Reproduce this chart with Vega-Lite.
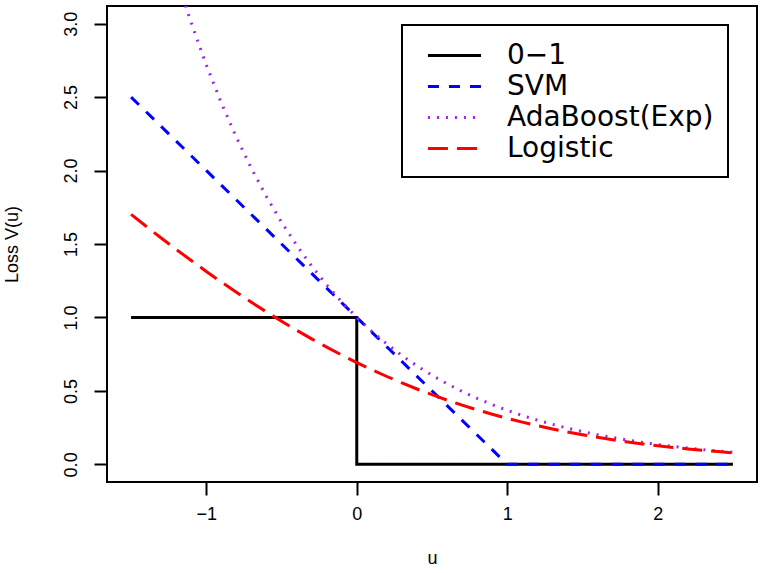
{
  "$schema": "https://vega.github.io/schema/vega-lite/v6.json",
  "width": 650,
  "height": 476,
  "autosize": "none",
  "padding": {"left": 107, "top": 6, "right": 10, "bottom": 91},
  "background": "white",
  "config": {
    "view": {"stroke": "black", "strokeWidth": 2},
    "font": "Liberation Sans",
    "axis": {
      "domain": false,
      "grid": false,
      "ticks": true,
      "tickColor": "black",
      "tickWidth": 2,
      "tickSize": 13,
      "labelFont": "Liberation Sans",
      "labelFontSize": 18,
      "labelColor": "black",
      "titleFont": "Liberation Sans",
      "titleFontSize": 18,
      "titleFontWeight": "normal",
      "titleColor": "black"
    },
    "legend": {
      "strokeColor": "black",
      "strokeWidth": 2,
      "fillColor": "white",
      "padding": 14,
      "labelFont": "DejaVu Sans",
      "labelFontSize": 28,
      "labelColor": "black",
      "labelLimit": 500,
      "labelOffset": 36,
      "symbolType": "M-1.77,0H1.77",
      "symbolSize": 900,
      "symbolStrokeWidth": 3,
      "symbolOffset": 22,
      "rowPadding": -2
    }
  },
  "datasets": {
    "curves": [
      {"loss": "0−1", "idx": 0, "u": -1.5, "v": 1},
      {"loss": "0−1", "idx": 1, "u": 0, "v": 1},
      {"loss": "0−1", "idx": 2, "u": 0, "v": 0},
      {"loss": "0−1", "idx": 3, "u": 2.5, "v": 0},
      {"loss": "SVM", "idx": 0, "u": -1.5, "v": 2.5},
      {"loss": "SVM", "idx": 1, "u": 1, "v": 0},
      {"loss": "SVM", "idx": 2, "u": 2.5, "v": 0},
      {"loss": "AdaBoost(Exp)", "idx": 0, "u": -1.5, "v": 4.4817},
      {"loss": "AdaBoost(Exp)", "idx": 1, "u": -1.4, "v": 4.0552},
      {"loss": "AdaBoost(Exp)", "idx": 2, "u": -1.3, "v": 3.6693},
      {"loss": "AdaBoost(Exp)", "idx": 3, "u": -1.2, "v": 3.3201},
      {"loss": "AdaBoost(Exp)", "idx": 4, "u": -1.1, "v": 3.0042},
      {"loss": "AdaBoost(Exp)", "idx": 5, "u": -1.0, "v": 2.7183},
      {"loss": "AdaBoost(Exp)", "idx": 6, "u": -0.9, "v": 2.4596},
      {"loss": "AdaBoost(Exp)", "idx": 7, "u": -0.8, "v": 2.2255},
      {"loss": "AdaBoost(Exp)", "idx": 8, "u": -0.7, "v": 2.0138},
      {"loss": "AdaBoost(Exp)", "idx": 9, "u": -0.6, "v": 1.8221},
      {"loss": "AdaBoost(Exp)", "idx": 10, "u": -0.5, "v": 1.6487},
      {"loss": "AdaBoost(Exp)", "idx": 11, "u": -0.4, "v": 1.4918},
      {"loss": "AdaBoost(Exp)", "idx": 12, "u": -0.3, "v": 1.3499},
      {"loss": "AdaBoost(Exp)", "idx": 13, "u": -0.2, "v": 1.2214},
      {"loss": "AdaBoost(Exp)", "idx": 14, "u": -0.1, "v": 1.1052},
      {"loss": "AdaBoost(Exp)", "idx": 15, "u": 0.0, "v": 1.0},
      {"loss": "AdaBoost(Exp)", "idx": 16, "u": 0.1, "v": 0.9048},
      {"loss": "AdaBoost(Exp)", "idx": 17, "u": 0.2, "v": 0.8187},
      {"loss": "AdaBoost(Exp)", "idx": 18, "u": 0.3, "v": 0.7408},
      {"loss": "AdaBoost(Exp)", "idx": 19, "u": 0.4, "v": 0.6703},
      {"loss": "AdaBoost(Exp)", "idx": 20, "u": 0.5, "v": 0.6065},
      {"loss": "AdaBoost(Exp)", "idx": 21, "u": 0.6, "v": 0.5488},
      {"loss": "AdaBoost(Exp)", "idx": 22, "u": 0.7, "v": 0.4966},
      {"loss": "AdaBoost(Exp)", "idx": 23, "u": 0.8, "v": 0.4493},
      {"loss": "AdaBoost(Exp)", "idx": 24, "u": 0.9, "v": 0.4066},
      {"loss": "AdaBoost(Exp)", "idx": 25, "u": 1.0, "v": 0.3679},
      {"loss": "AdaBoost(Exp)", "idx": 26, "u": 1.1, "v": 0.3329},
      {"loss": "AdaBoost(Exp)", "idx": 27, "u": 1.2, "v": 0.3012},
      {"loss": "AdaBoost(Exp)", "idx": 28, "u": 1.3, "v": 0.2725},
      {"loss": "AdaBoost(Exp)", "idx": 29, "u": 1.4, "v": 0.2466},
      {"loss": "AdaBoost(Exp)", "idx": 30, "u": 1.5, "v": 0.2231},
      {"loss": "AdaBoost(Exp)", "idx": 31, "u": 1.6, "v": 0.2019},
      {"loss": "AdaBoost(Exp)", "idx": 32, "u": 1.7, "v": 0.1827},
      {"loss": "AdaBoost(Exp)", "idx": 33, "u": 1.8, "v": 0.1653},
      {"loss": "AdaBoost(Exp)", "idx": 34, "u": 1.9, "v": 0.1496},
      {"loss": "AdaBoost(Exp)", "idx": 35, "u": 2.0, "v": 0.1353},
      {"loss": "AdaBoost(Exp)", "idx": 36, "u": 2.1, "v": 0.1225},
      {"loss": "AdaBoost(Exp)", "idx": 37, "u": 2.2, "v": 0.1108},
      {"loss": "AdaBoost(Exp)", "idx": 38, "u": 2.3, "v": 0.1003},
      {"loss": "AdaBoost(Exp)", "idx": 39, "u": 2.4, "v": 0.0907},
      {"loss": "AdaBoost(Exp)", "idx": 40, "u": 2.5, "v": 0.0821},
      {"loss": "Logistic", "idx": 0, "u": -1.5, "v": 1.7014},
      {"loss": "Logistic", "idx": 1, "u": -1.4, "v": 1.6205},
      {"loss": "Logistic", "idx": 2, "u": -1.3, "v": 1.5410},
      {"loss": "Logistic", "idx": 3, "u": -1.2, "v": 1.4633},
      {"loss": "Logistic", "idx": 4, "u": -1.1, "v": 1.3873},
      {"loss": "Logistic", "idx": 5, "u": -1.0, "v": 1.3133},
      {"loss": "Logistic", "idx": 6, "u": -0.9, "v": 1.2412},
      {"loss": "Logistic", "idx": 7, "u": -0.8, "v": 1.1711},
      {"loss": "Logistic", "idx": 8, "u": -0.7, "v": 1.1032},
      {"loss": "Logistic", "idx": 9, "u": -0.6, "v": 1.0375},
      {"loss": "Logistic", "idx": 10, "u": -0.5, "v": 0.9741},
      {"loss": "Logistic", "idx": 11, "u": -0.4, "v": 0.9130},
      {"loss": "Logistic", "idx": 12, "u": -0.3, "v": 0.8544},
      {"loss": "Logistic", "idx": 13, "u": -0.2, "v": 0.7981},
      {"loss": "Logistic", "idx": 14, "u": -0.1, "v": 0.7444},
      {"loss": "Logistic", "idx": 15, "u": 0.0, "v": 0.6931},
      {"loss": "Logistic", "idx": 16, "u": 0.1, "v": 0.6444},
      {"loss": "Logistic", "idx": 17, "u": 0.2, "v": 0.5981},
      {"loss": "Logistic", "idx": 18, "u": 0.3, "v": 0.5544},
      {"loss": "Logistic", "idx": 19, "u": 0.4, "v": 0.5130},
      {"loss": "Logistic", "idx": 20, "u": 0.5, "v": 0.4741},
      {"loss": "Logistic", "idx": 21, "u": 0.6, "v": 0.4375},
      {"loss": "Logistic", "idx": 22, "u": 0.7, "v": 0.4032},
      {"loss": "Logistic", "idx": 23, "u": 0.8, "v": 0.3711},
      {"loss": "Logistic", "idx": 24, "u": 0.9, "v": 0.3412},
      {"loss": "Logistic", "idx": 25, "u": 1.0, "v": 0.3133},
      {"loss": "Logistic", "idx": 26, "u": 1.1, "v": 0.2873},
      {"loss": "Logistic", "idx": 27, "u": 1.2, "v": 0.2633},
      {"loss": "Logistic", "idx": 28, "u": 1.3, "v": 0.2410},
      {"loss": "Logistic", "idx": 29, "u": 1.4, "v": 0.2204},
      {"loss": "Logistic", "idx": 30, "u": 1.5, "v": 0.2014},
      {"loss": "Logistic", "idx": 31, "u": 1.6, "v": 0.1839},
      {"loss": "Logistic", "idx": 32, "u": 1.7, "v": 0.1678},
      {"loss": "Logistic", "idx": 33, "u": 1.8, "v": 0.1530},
      {"loss": "Logistic", "idx": 34, "u": 1.9, "v": 0.1394},
      {"loss": "Logistic", "idx": 35, "u": 2.0, "v": 0.1269},
      {"loss": "Logistic", "idx": 36, "u": 2.1, "v": 0.1155},
      {"loss": "Logistic", "idx": 37, "u": 2.2, "v": 0.1051},
      {"loss": "Logistic", "idx": 38, "u": 2.3, "v": 0.0956},
      {"loss": "Logistic", "idx": 39, "u": 2.4, "v": 0.0868},
      {"loss": "Logistic", "idx": 40, "u": 2.5, "v": 0.0789}
    ]
  },
  "data": {"name": "curves"},
  "mark": {"type": "line", "clip": true, "strokeWidth": 3, "strokeCap": "butt"},
  "encoding": {
    "x": {
      "field": "u",
      "type": "quantitative",
      "scale": {"domain": [-1.66, 2.66], "nice": false, "zero": false},
      "axis": {"values": [-1, 0, 1, 2], "title": "u", "labelPadding": 10, "titlePadding": 26}
    },
    "y": {
      "field": "v",
      "type": "quantitative",
      "scale": {"domain": [-0.12, 3.12], "nice": false, "zero": false},
      "axis": {"values": [0, 0.5, 1, 1.5, 2, 2.5, 3], "format": ".1f", "title": "Loss V(u)", "labelAngle": -90, "labelPadding": 14, "titlePadding": 41}
    },
    "order": {"field": "idx", "type": "quantitative"},
    "color": {
      "field": "loss",
      "type": "nominal",
      "sort": ["0−1", "SVM", "AdaBoost(Exp)", "Logistic"],
      "scale": {"domain": ["0−1", "SVM", "AdaBoost(Exp)", "Logistic"], "range": ["#000000", "#0000FF", "#A020F0", "#FF0000"]},
      "legend": {"title": null, "orient": "none", "legendX": 295, "legendY": 19}
    },
    "strokeDash": {
      "field": "loss",
      "type": "nominal",
      "sort": ["0−1", "SVM", "AdaBoost(Exp)", "Logistic"],
      "scale": {"domain": ["0−1", "SVM", "AdaBoost(Exp)", "Logistic"], "range": [[1, 0], [11, 10], [2, 7], [20, 9]]},
      "legend": {"title": null, "orient": "none", "legendX": 295, "legendY": 19}
    }
  }
}
